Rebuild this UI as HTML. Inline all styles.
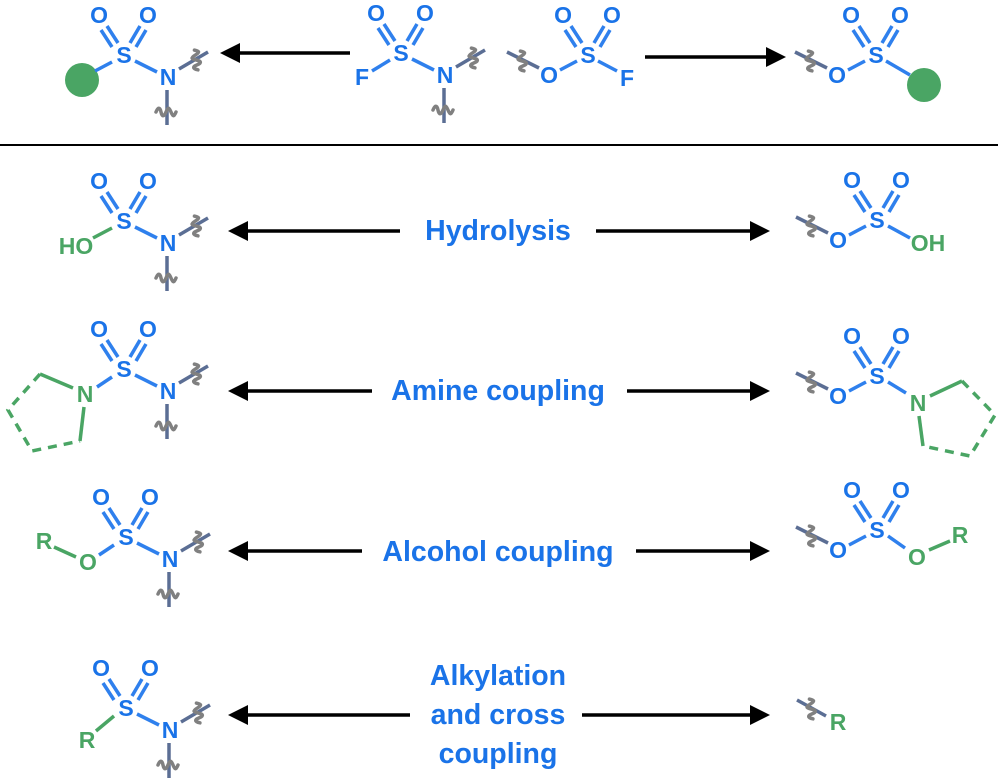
<!DOCTYPE html>
<html><head><meta charset="utf-8"><style>
html,body{margin:0;padding:0;background:#fff}
svg{display:block}
.a{font-family:"Liberation Sans",sans-serif;font-size:23px;font-weight:bold;fill:#1a73e8;text-anchor:middle;dominant-baseline:central}
.g{fill:#4aa564}
.lbl{font-family:"Liberation Sans",sans-serif;font-size:28.5px;font-weight:bold;fill:#1a73e8;text-anchor:middle}
.b{stroke:#2f80ed;stroke-width:3.5;fill:none}
.gb{stroke:#4aa564;stroke-width:3.5;fill:none}
.sl{stroke:#5b6e94;stroke-width:3.5;fill:none}
.ar{stroke:#000;stroke-width:3.5}
</style></head><body>
<svg width="998" height="783" viewBox="0 0 998 783" xmlns="http://www.w3.org/2000/svg">
<defs>
<path id="sq" d="M-11,0 c2,-5 4,-5 5,0 s3,5 5,0 s3,-5 5,0 s3,5 5,0" stroke="#808080" stroke-width="3.5" fill="none" stroke-linecap="round"/>
<g id="so2">
<text class="a" x="-25" y="-40">O</text><text class="a" x="24" y="-40">O</text><text class="a" x="0" y="0">S</text>
<line class="b" x1="-6" y1="-12" x2="-17" y2="-29"/><line class="b" x1="-12" y1="-8" x2="-23" y2="-25"/>
<line class="b" x1="6" y1="-12" x2="16" y2="-29"/><line class="b" x1="12" y1="-8" x2="22" y2="-25"/>
</g>
<g id="A">
<use href="#so2"/>
<text class="a" x="44" y="22">N</text>
<line class="b" x1="11" y1="6" x2="33" y2="17"/>
<line class="sl" x1="55" y1="14" x2="84" y2="-3"/>
<use href="#sq" transform="translate(72,4) rotate(-100)"/>
<line class="sl" x1="43" y1="35" x2="43" y2="70"/>
<use href="#sq" transform="translate(43,57)"/>
</g>
<g id="B">
<use href="#so2"/>
<text class="a" x="-39" y="20">O</text>
<line class="b" x1="-11" y1="6" x2="-28" y2="15"/>
<line class="sl" x1="-49" y1="13" x2="-81" y2="-3"/>
<use href="#sq" transform="translate(-66,5) rotate(-100)"/>
</g>
</defs>

<circle cx="82" cy="80" r="17" fill="#4aa564"/>
<line class="b" x1="95" y1="71" x2="112" y2="62"/>
<use href="#A" transform="translate(124,55)"/>

<use href="#A" transform="translate(401,53)"/>
<text class="a" x="362" y="77">F</text>
<line class="b" x1="372" y1="71" x2="390" y2="60"/>

<use href="#B" transform="translate(588,55)"/>
<text class="a" x="627" y="78">F</text>
<line class="b" x1="598" y1="61" x2="617" y2="71"/>

<use href="#B" transform="translate(876,55)"/>
<circle cx="924" cy="85" r="17" fill="#4aa564"/>
<line class="b" x1="886" y1="61" x2="910" y2="75"/>

<line class="ar" x1="350" y1="53" x2="232" y2="53"/><polygon points="220,53 240,43 240,63"/>
<line class="ar" x1="645" y1="57" x2="773" y2="57"/><polygon points="786,57 766,47 766,67"/>

<line x1="0" y1="145" x2="998" y2="145" stroke="#000" stroke-width="2"/>

<use href="#A" transform="translate(124,221)"/>
<text class="a g" x="76" y="246">HO</text>
<line class="gb" x1="93" y1="238" x2="112" y2="228"/>
<text class="lbl" x="498" y="240">Hydrolysis</text>
<line class="ar" x1="400" y1="231" x2="240" y2="231"/><polygon points="228,231 248,221 248,241"/>
<line class="ar" x1="596" y1="231" x2="758" y2="231"/><polygon points="770,231 750,221 750,241"/>
<use href="#B" transform="translate(877,220)"/>
<text class="a g" x="928" y="243">OH</text>
<line class="b" x1="888" y1="226" x2="910" y2="238"/>

<use href="#A" transform="translate(124,369)"/>
<text class="a g" x="85" y="394">N</text>
<line class="b" x1="97" y1="387" x2="112" y2="377"/>
<line class="gb" x1="73" y1="388" x2="40" y2="374"/>
<line class="gb" x1="84" y1="407" x2="80" y2="441"/>
<polyline class="gb" stroke-dasharray="9,7" points="40,374 8,410 32,451 80,441"/>
<text class="lbl" x="498" y="400">Amine coupling</text>
<line class="ar" x1="372" y1="391" x2="240" y2="391"/><polygon points="228,391 248,381 248,401"/>
<line class="ar" x1="627" y1="391" x2="758" y2="391"/><polygon points="770,391 750,381 750,401"/>
<use href="#B" transform="translate(877,376)"/>
<text class="a g" x="918" y="403">N</text>
<line class="b" x1="888" y1="382" x2="906" y2="393"/>
<line class="gb" x1="930" y1="396" x2="962" y2="381"/>
<line class="gb" x1="919" y1="416" x2="923" y2="446"/>
<polyline class="gb" stroke-dasharray="9,7" points="962,381 995,415 970,456 923,446"/>

<use href="#A" transform="translate(126,537)"/>
<text class="a g" x="44" y="541">R</text>
<text class="a g" x="88" y="562">O</text>
<line class="gb" x1="54" y1="547" x2="76" y2="557"/>
<line class="b" x1="99" y1="555" x2="114" y2="545"/>
<text class="lbl" x="498" y="561">Alcohol coupling</text>
<line class="ar" x1="362" y1="551" x2="240" y2="551"/><polygon points="228,551 248,541 248,561"/>
<line class="ar" x1="636" y1="551" x2="758" y2="551"/><polygon points="770,551 750,541 750,561"/>
<use href="#B" transform="translate(877,530)"/>
<text class="a g" x="917" y="557">O</text>
<line class="b" x1="888" y1="536" x2="905" y2="548"/>
<line class="gb" x1="929" y1="550" x2="950" y2="541"/>
<text class="a g" x="960" y="535">R</text>

<use href="#A" transform="translate(126,708)"/>
<text class="a g" x="87" y="740">R</text>
<line class="gb" x1="96" y1="731" x2="114" y2="716"/>
<text class="lbl" x="498" y="685">Alkylation</text>
<text class="lbl" x="498" y="724">and cross</text>
<text class="lbl" x="498" y="763">coupling</text>
<line class="ar" x1="410" y1="715" x2="240" y2="715"/><polygon points="228,715 248,705 248,725"/>
<line class="ar" x1="582" y1="715" x2="758" y2="715"/><polygon points="770,715 750,705 750,725"/>
<line class="sl" x1="797" y1="700" x2="826" y2="716"/>
<use href="#sq" transform="translate(811,708) rotate(-100)"/>
<text class="a g" x="838" y="722">R</text>
</svg>
</body></html>
